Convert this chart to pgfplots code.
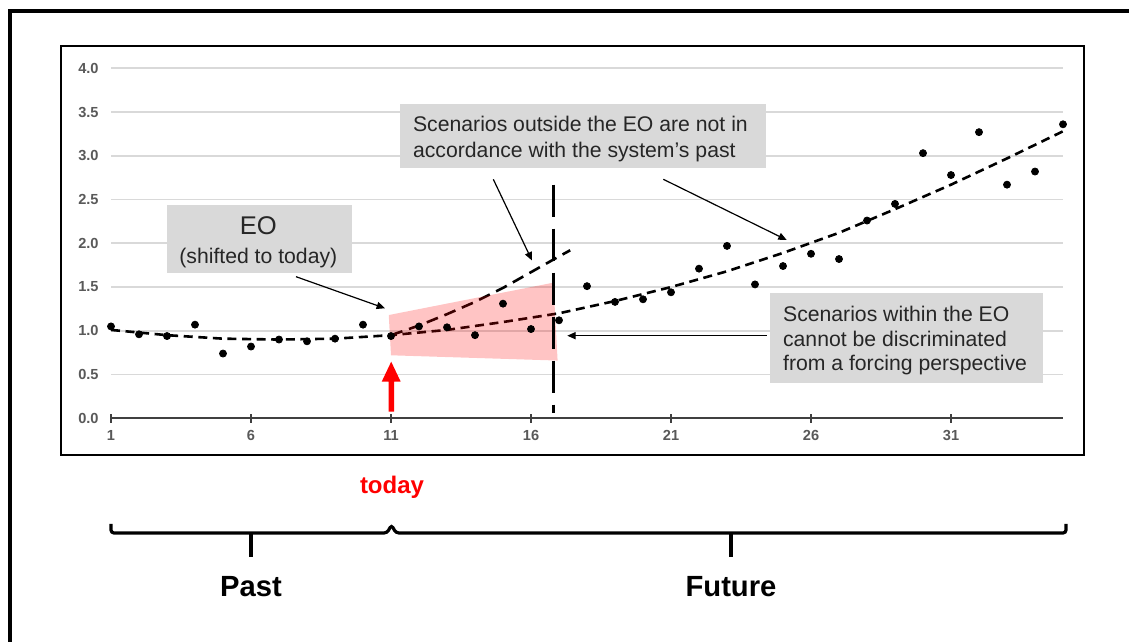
\documentclass[border=0pt]{standalone}
\usepackage{pgfplots}
\pgfplotsset{compat=1.18}
\usepackage{fontspec}
\setmainfont{Liberation Sans}
\usetikzlibrary{arrows.meta}
\definecolor{gridgray}{HTML}{D9D9D9}
\definecolor{axgray}{HTML}{404040}
\definecolor{lblgray}{HTML}{595959}
\definecolor{boxgray}{HTML}{D9D9D9}
\definecolor{txtdark}{HTML}{262626}
\begin{document}
\begin{tikzpicture}
\path[use as bounding box, clip] (0,0) rectangle (564.5pt,321pt);
\begin{axis}[
  at={(55.5pt,111.85pt)}, anchor=south west,
  x=14pt, y=43.75pt,
  xmin=1, xmax=35, ymin=0, ymax=4,
  axis x line*=bottom, axis y line*=left,
  y axis line style={draw=none},
  x axis line style={draw=axgray, line width=1.05pt},
  xtick={1,6,...,31},
  ytick={0,0.5,...,4},
  xtick align=center,
  major tick length=4.4pt,
  major x tick style={draw=axgray, line width=0.8pt},
  major y tick style={draw=none},
  ymajorgrids,
  major grid style={draw=gridgray, line width=0.8pt},
  tick label style={font=\fontsize{7.3}{8}\selectfont\bfseries, text=lblgray},
  xticklabel style={anchor=north, inner sep=0pt, yshift=-3.6pt},
  yticklabel style={anchor=east, inner sep=0pt, xshift=-6pt},
  /pgf/number format/assume math mode=true,
  y tick label style={/pgf/number format/.cd, fixed, fixed zerofill, precision=1, /tikz/.cd},
  clip=false,
]
% quadratic trend
\addplot[black, line width=1.3pt, dash pattern=on 4.5pt off 2.8pt] coordinates {
(1,1.01) (3,0.95) (5,0.91) (7,0.90) (9,0.91) (11,0.95) (13,1.01) (15,1.10)
(17,1.20) (19,1.34) (21,1.50) (23,1.68) (25,1.89) (27,2.12) (29,2.39) (31,2.67)
(33,2.97) (35,3.28)};
% steeper scenario
\addplot[black, line width=1.3pt, dash pattern=on 6pt off 3.5pt] coordinates {
(11,0.95) (12,1.06) (13,1.19) (14,1.33) (15,1.49) (16,1.67) (17,1.85) (17.4,1.92)};
% observations
\addplot[only marks, mark=*, mark size=1.75pt, black] coordinates {
(1,1.05) (2,0.96) (3,0.94) (4,1.07) (5,0.74) (6,0.82) (7,0.90) (8,0.88) (9,0.91)
(10,1.07) (11,0.94) (12,1.05) (13,1.04) (14,0.95) (15,1.31) (16,1.02) (17,1.12)
(18,1.51) (19,1.33) (20,1.36) (21,1.44) (22,1.71) (23,1.97) (24,1.53) (25,1.74)
(26,1.88) (27,1.82) (28,2.26) (29,2.45) (30,3.03) (31,2.78) (32,3.27) (33,2.67)
(34,2.82) (35,3.36)};
% EO envelope
\addplot[draw=none, fill=red, fill opacity=0.23] coordinates {
(10.92,1.18) (16.8,1.55) (16.95,0.66) (11.0,0.72)} -- cycle;
% separation line
\addplot[black, line width=1.5pt, dash pattern=on 16pt off 6pt] coordinates {
(16.8,2.67) (16.8,0.06)};
\end{axis}
\begin{scope}[x=0.5pt, y=-0.5pt, yshift=321pt]
% frames
\draw[black, line width=1.75pt] (10,11) rectangle (1200,700);
\draw[black, line width=1.15pt] (60.7,46.3) rectangle (1084,455);
% today arrow
\fill[red] (388.5,411.7) -- (388.5,381.7) -- (381.7,381.7) -- (391.2,361.7)
  -- (400.7,381.7) -- (394,381.7) -- (394,411.7) -- cycle;
% boxes
\fill[boxgray] (166.7,205) rectangle (352.3,273.5);
\node[anchor=base, inner sep=0pt, font=\fontsize{12.8}{14}\selectfont, text=txtdark] at (258.3,235) {EO};
\node[anchor=base, inner sep=0pt, font=\fontsize{10.6}{12}\selectfont, text=txtdark] at (258.3,263.3) {(shifted to today)};
\fill[boxgray] (400,104) rectangle (766,168.3);
\node[anchor=base west, inner sep=0pt, font=\fontsize{10.6}{12}\selectfont, text=txtdark] at (412.7,131.7) {Scenarios outside the EO are not in};
\node[anchor=base west, inner sep=0pt, font=\fontsize{10.6}{12}\selectfont, text=txtdark] at (412.7,157.3) {accordance with the system’s past};
\fill[boxgray] (770,293.3) rectangle (1043.3,383.3);
\node[anchor=base west, inner sep=0pt, font=\fontsize{10.6}{12}\selectfont, text=txtdark] at (782.7,321.7) {Scenarios within the EO};
\node[anchor=base west, inner sep=0pt, font=\fontsize{10.6}{12}\selectfont, text=txtdark] at (782.7,346.3) {cannot be discriminated};
\node[anchor=base west, inner sep=0pt, font=\fontsize{10.6}{12}\selectfont, text=txtdark] at (782.7,371) {from a forcing perspective};
% annotation arrows
\begin{scope}[line width=0.6pt, -{Triangle[length=4.2pt,width=3.6pt]}]
\draw (296,276.7) -- (385,308.3);
\draw (493.3,179.3) -- (532,260.5);
\draw (663.3,179.3) -- (786.7,240);
\draw (766.7,335.7) -- (567.3,335.7);
\end{scope}
% today / past / future
\node[anchor=base, inner sep=0pt, text=red, font=\fontsize{12}{14}\selectfont\bfseries] at (392,493.3) {today};
\draw[black, line width=1.6pt, rounded corners=1.5pt] (111,524) -- (111,533) -- (387,533) -- (391.5,525) -- (396,533) -- (1066,533) -- (1066,524);
\draw[black, line width=1.6pt] (251,533) -- (251,557);
\draw[black, line width=1.6pt] (731,533) -- (731,557);
\node[anchor=base, inner sep=0pt, font=\fontsize{14.6}{16}\selectfont\bfseries] at (251,596.7) {Past};
\node[anchor=base, inner sep=0pt, font=\fontsize{14.6}{16}\selectfont\bfseries] at (731,596.7) {Future};
\end{scope}
\end{tikzpicture}
\end{document}
